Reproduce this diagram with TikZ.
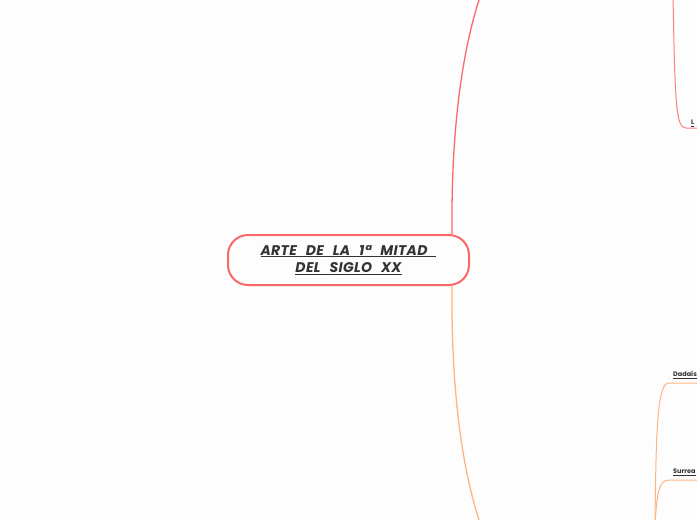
\documentclass[tikz,border=0pt]{standalone}
\usepackage{fontspec}
\setmainfont{Poppins}
\newfontfamily\widepop{Poppins}[LetterSpace=2.5,WordSpace=2.5]
\usetikzlibrary{calc}
\definecolor{redl}{RGB}{252,104,104}
\definecolor{orl}{RGB}{255,180,130}
\definecolor{txt}{RGB}{51,51,51}
\definecolor{bg}{RGB}{253,253,253}
\begin{document}
\begin{tikzpicture}[x=1pt,y=-1pt,
  central/.style={draw=redl,line width=2pt,rounded corners=20pt,minimum width=241pt,minimum height=50pt,align=center,font=\widepop\fontsize{14}{17.7}\selectfont\bfseries\itshape,text=txt,inner sep=0pt},
  topic/.style={font=\fontsize{6.5}{8}\selectfont\bfseries,text=txt,anchor=base west,inner sep=0pt},
  trunkred/.style={draw=redl,line width=1.3pt},
  trunkor/.style={draw=orl,line width=1.3pt},
  branchred/.style={draw=redl!85,line width=1pt},
  branchor/.style={draw=orl,line width=1pt}]
\useasboundingbox (0,0) rectangle (697,520);
\fill[bg] (0,0) rectangle (697,520);
\begin{scope}
\clip (0,0) rectangle (697,520);
% free ends
\coordinate (topend) at (479,0);
\coordinate (botend) at (479,520);
\coordinate (trR) at (673,-5);
\coordinate (brO) at (655,525);
% central node
\node[central] (c) at (348.5,260) {\underline{ARTE DE LA 1ª MITAD }\\\underline{DEL SIGLO XX}};
\coordinate (cn) at ($(c.north east)+(-18,0)$);
\coordinate (cs) at ($(c.south east)+(-18,0)$);
% trunks
\draw[trunkred] (cn) .. controls (451,125) and (463,50) .. (topend);
\draw[trunkor] (cs) .. controls (451,395) and (463,470) .. (botend);
% topic labels
\node[topic] (l1) at (691,124.5) {\underline{L}};
\node[topic] (d1) at (673,376.5) {\underline{Dadaís}};
\node[topic] (s1) at (673,473.5) {\underline{Surrea}};
\coordinate (l1s) at (686,128);
\coordinate (d1s) at (669,383);
\coordinate (s1s) at (669,480);
% branches
\draw[branchred] (trR) .. controls (675,105) and (676,128) .. (l1s) -- (697,128);
\draw[branchor] (brO) .. controls (656,420) and (658,383) .. (d1s) -- (697,383);
\draw[branchor] (brO) .. controls (657,492) and (659,480) .. (s1s) -- (697,480);
\end{scope}
\end{tikzpicture}
\end{document}
